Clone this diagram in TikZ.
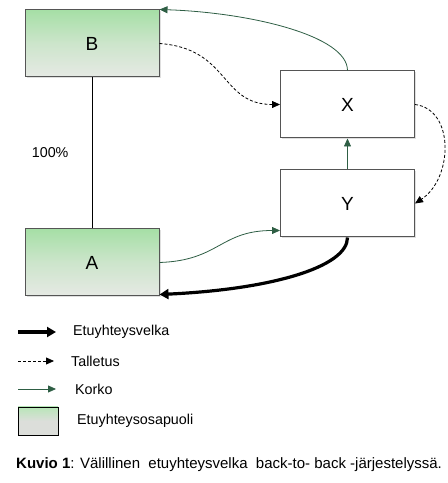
\documentclass[tikz,border=0pt]{standalone}
\usepackage{fontspec}
\setmainfont{Liberation Sans}
\usetikzlibrary{positioning, arrows.meta, shadows}

\definecolor{partytop}{HTML}{A6DFA6}
\definecolor{partybottom}{HTML}{E6E9E4}
\definecolor{korkogreen}{HTML}{2E5E44}
\definecolor{boxline}{HTML}{555555}

\begin{document}
\begin{tikzpicture}[x=1pt, y=1pt, node distance=151pt and 16mm,
  box/.style={draw=boxline, line width=1pt, fill=white, minimum width=134pt, minimum height=67pt,
    font=\fontsize{19}{22}\selectfont, drop shadow={shadow xshift=1.5pt, shadow yshift=-1.5pt, opacity=.25}},
  party/.style={box, top color=partytop, bottom color=partybottom, middle color=partybottom!60!partytop},
  velka/.style={line width=3.2pt, -{Triangle[length=9pt, width=10pt]}},
  talletus/.style={line width=.8pt, dash pattern=on 3pt off 2pt, -{Triangle[length=8pt, width=7pt]}},
  korko/.style={draw=korkogreen, line width=.8pt, -{Triangle[length=8pt, width=7pt, fill=korkogreen]}},
  legend text/.style={anchor=west, inner sep=0pt, font=\fontsize{14.3}{17}\selectfont}]
  \useasboundingbox (0,0) rectangle (448,483);

  \node[party] (B) at (92,439.5) {B};
  \node[party, below=of B] (A) {A};
  \node[box] (X) at (347.5,378.5) {X};
  \node[box, below=31pt of X] (Y) {Y};

  \draw (B) -- node[left=20pt, font=\fontsize{14.3}{17}\selectfont] (share) {100\%} (A);
  \coordinate (Yin) at ([yshift=7pt]Y.south west);
  \coordinate (Ain) at ([yshift=2pt]A.south east);

  \draw[korko] (X.north) .. controls +(0,35) and +(90,-3) .. (B.north east);
  \draw[talletus] (B.east) .. controls +(70,-5) and +(-60,0) .. (X.west);
  \draw[talletus] (X.east) .. controls +(40,-5) and +(38,25) .. (Y.east);
  \draw[korko] (Y.north) -- (X.south);
  \draw[korko] (A.east) .. controls +(60,2) and +(-60,0) .. (Yin);
  \draw[velka] (Y.south) .. controls +(0,-30) and +(110,5) .. (Ain);

  % Legend
  \coordinate (l1a) at (18,151);   \coordinate (l1b) at (56,151);
  \coordinate (l2a) at (18,122);   \coordinate (l2b) at (54,122);
  \coordinate (l3a) at (18,94);    \coordinate (l3b) at (56,94);
  \draw[velka] (l1a) -- (l1b);
  \draw[talletus] (l2a) -- (l2b);
  \draw[korko] (l3a) -- (l3b);
  \node[legend text] (velkatxt) at (73,151) {Etuyhteysvelka};
  \node[legend text] (talltxt) at (71,122) {Talletus};
  \node[legend text] (korkotxt) at (75,94) {Korko};
  \node[draw=black, line width=.8pt, minimum width=40pt, minimum height=28pt,
    top color=partytop!80, bottom color=partybottom!90!gray, middle color=partybottom!90!gray] (lbox) at (38,62) {};
  \node[legend text] (partytxt) at (77,62) {Etuyhteysosapuoli};

  \node[anchor=west, inner sep=0pt, font=\fontsize{15}{18}\selectfont] (caption) at (16,18)
    {\textbf{Kuvio 1}: Välillinen\ \ etuyhteysvelka\ \ back-to- back -järjestelyssä.};
\end{tikzpicture}
\end{document}
